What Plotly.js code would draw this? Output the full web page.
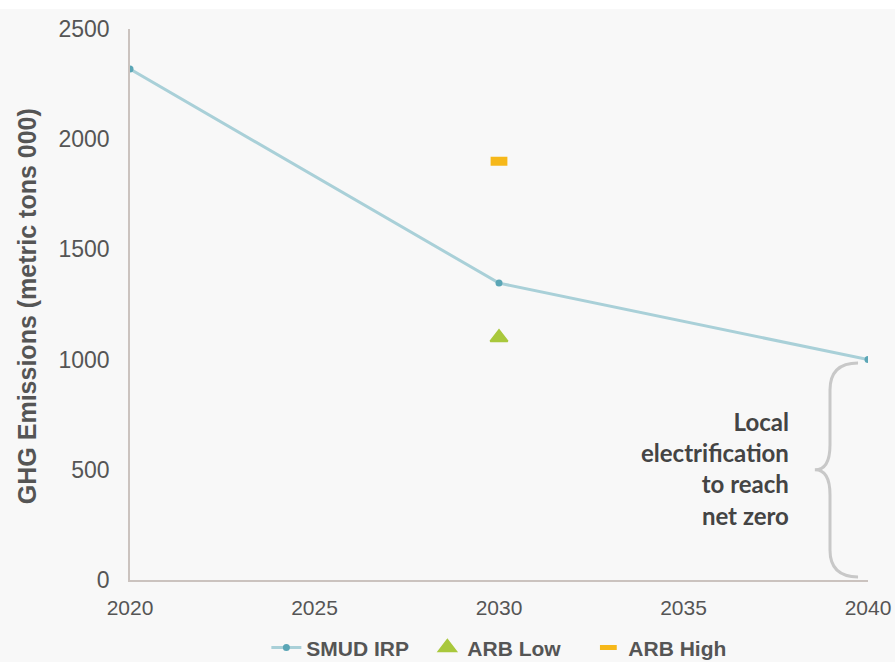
<!DOCTYPE html>
<html>
<head>
<meta charset="utf-8">
<script src="https://cdn.plot.ly/plotly-3.0.1.min.js"></script>
<style>html,body{margin:0;padding:0;background:#f8f8f8;}</style>
</head>
<body>
<div id="chart" style="width:895px;height:662px;"></div>
<script>
// Data
const years = [2020, 2030, 2040];
const smudIrp = [2318, 1347, 1000];
const arbYear = [2030];
const arbLow = [1100];
const arbHigh = [1900];
const xTicks = [2020, 2025, 2030, 2035, 2040];
const yTicks = [0, 500, 1000, 1500, 2000, 2500];
const yTitle = "GHG Emissions (metric tons 000)";
const braceLabel = "Local<br>electrification<br>to reach<br>net zero";

const traces = [
  {
    x: years, y: smudIrp, name: "SMUD IRP", type: "scatter", mode: "lines+markers",
    line: {color: "#a9d0d8", width: 3},
    marker: {color: "#5ba6b6", size: 7}
  },
  {
    x: arbYear, y: arbLow, name: "ARB Low", type: "scatter", mode: "markers",
    marker: {symbol: "triangle-up", color: "#a9c83c", size: 15, line: {color: "#a9c83c", width: 2}}
  },
  {
    x: arbYear, y: arbHigh, name: "ARB High", type: "scatter", mode: "markers",
    marker: {symbol: "line-ew-open", color: "#f6b81a", size: 12, line: {color: "#f6b81a", width: 9}}
  }
];

// brace path in data coordinates
const brace = "M 2039.73,985 Q 2038.97,985 2038.97,862 L 2038.97,613 Q 2038.97,500 2038.56,500 Q 2038.97,500 2038.97,386 L 2038.97,136 Q 2038.97,14 2039.73,14";

const font = "Liberation Sans, Arial, sans-serif";
const layout = {
  width: 895, height: 662,
  margin: {l: 130, r: 27, t: 29, b: 82, autoexpand: false},
  paper_bgcolor: "#f8f8f8",
  plot_bgcolor: "#f8f8f8",
  showlegend: true,
  legend: {
    orientation: "h", x: 0.512, xanchor: "center", y: -0.123, yanchor: "middle",
    entrywidth: 116, entrywidthmode: "pixels",
    font: {family: font, size: 21, color: "#555555", weight: "bold"},
    bgcolor: "rgba(0,0,0,0)"
  },
  xaxis: {
    range: [2020, 2040], tickvals: xTicks, ticktext: xTicks.map(String),
    showgrid: false, zeroline: false, showline: true, linecolor: "#cbc3bf", linewidth: 1.5,
    ticks: "outside", ticklen: 8, tickcolor: "rgba(0,0,0,0)",
    tickfont: {family: font, size: 21, color: "#555555"}
  },
  yaxis: {
    range: [0, 2500], tickvals: yTicks, ticktext: yTicks.map(String),
    showgrid: false, zeroline: false, showline: true, linecolor: "#cbc3bf", linewidth: 1.5,
    ticks: "outside", ticklen: 14, tickcolor: "rgba(0,0,0,0)",
    tickfont: {family: font, size: 23, color: "#555555"}
  },
  shapes: [
    {type: "rect", xref: "paper", yref: "paper", x0: -0.2, x1: 1.05, y0: 1.0363, y1: 1.06,
     fillcolor: "#ffffff", line: {width: 0}, layer: "below"},
    {type: "path", xref: "x", yref: "y", path: brace, line: {color: "#c8c8c8", width: 3}}
  ],
  annotations: [
    {xref: "paper", yref: "paper", x: -0.1396, y: 0.497, xanchor: "center", yanchor: "middle",
     text: yTitle, textangle: -90, showarrow: false,
     font: {family: font, size: 25, color: "#555555", weight: "bold"}},
    {xref: "x", yref: "y", x: 2037.9, y: 505, xanchor: "right", yanchor: "middle",
     text: braceLabel, align: "right", showarrow: false,
     font: {family: "Lato, sans-serif", size: 24, color: "#444444", weight: "bold"}}
  ]
};

Plotly.newPlot("chart", traces, layout, {displayModeBar: false, responsive: false});
</script>
</body>
</html>
